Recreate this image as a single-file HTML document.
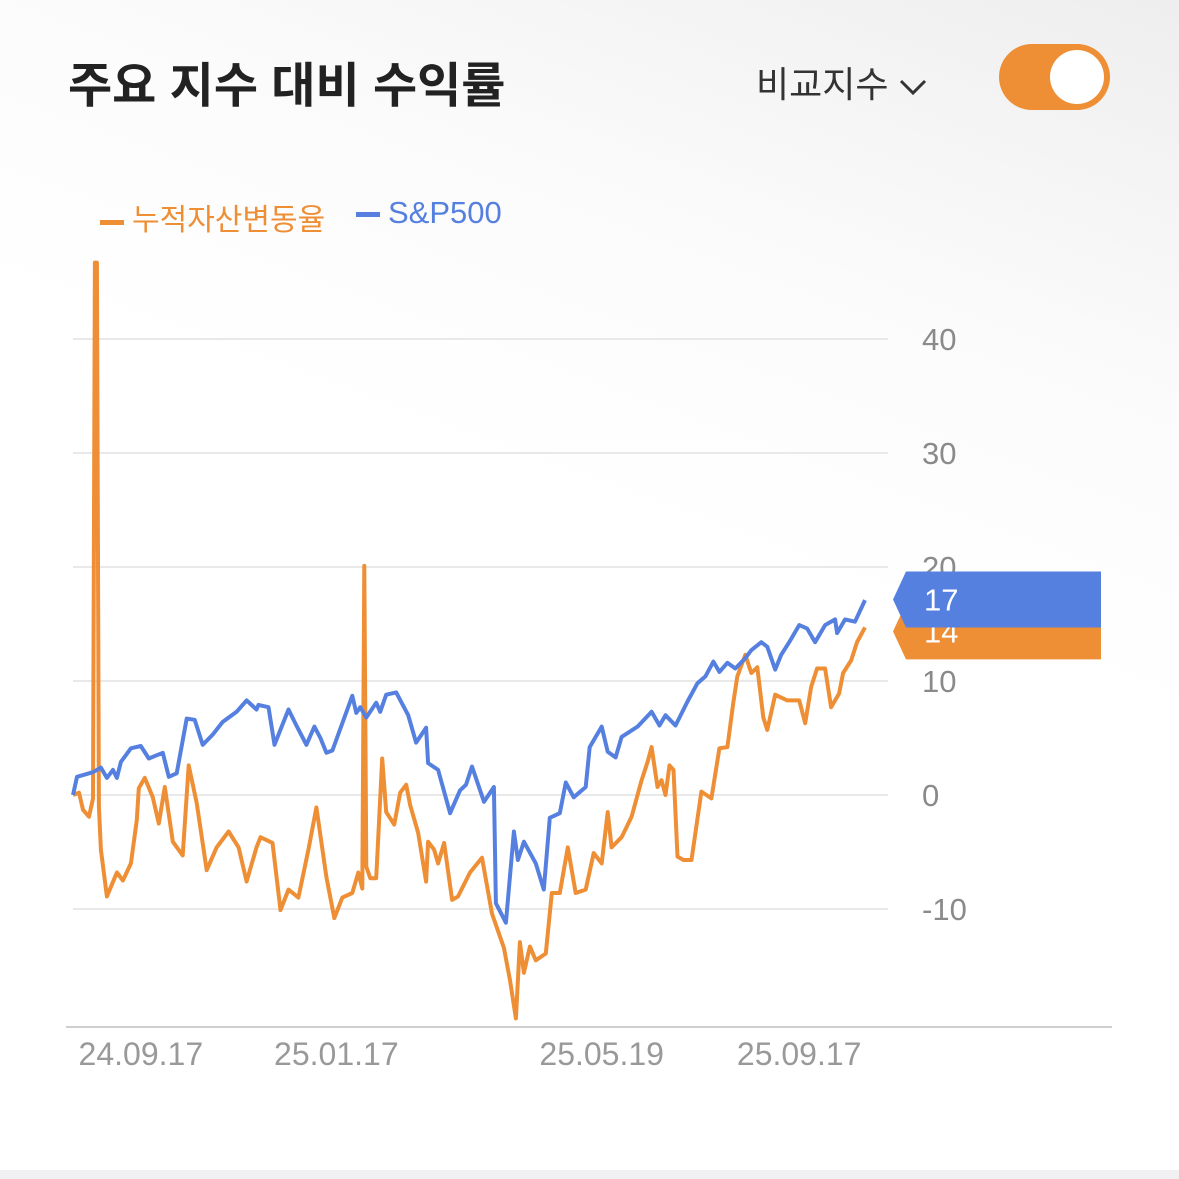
<!DOCTYPE html>
<html><head><meta charset="utf-8"><style>
html,body{margin:0;padding:0;}
body{width:1179px;height:1179px;overflow:hidden;background:linear-gradient(200deg,#eeeeee 0%,#fbfbfb 25%,#ffffff 45%);font-family:"Liberation Sans","Noto Sans CJK KR",sans-serif;position:relative;}
.t{position:absolute;white-space:nowrap;}
</style></head><body>
<div class="t" style="left:68px;top:46px;font-size:48px;font-weight:bold;color:#222;">주요 지수 대비 수익률</div>
<div class="t" style="left:756px;top:56px;font-size:36px;color:#333;">비교지수 <svg width="30" height="20" viewBox="0 0 30 20" style="vertical-align:middle"><path d="M3 4 L15 16 L27 4" fill="none" stroke="#333" stroke-width="3"/></svg></div>
<div style="position:absolute;left:999px;top:44px;width:111px;height:66px;border-radius:33px;background:#EE8E35;">
<div style="position:absolute;right:6px;top:6px;width:54px;height:54px;border-radius:50%;background:#fff;"></div></div>
<div class="t" style="left:100px;top:195px;font-size:30px;color:#EE8E35;"><span style="display:inline-block;width:24px;height:5px;background:#EE8E35;vertical-align:middle;margin-right:8px"></span>누적자산변동율</div>
<div class="t" style="left:356px;top:195px;font-size:31px;color:#5580E0;"><span style="display:inline-block;width:24px;height:5px;background:#5580E0;vertical-align:middle;margin-right:8px"></span>S&amp;P500</div>
<svg id="chart" width="1179" height="1179" style="position:absolute;left:0;top:0"></svg>
<div style="position:absolute;left:0;top:1170px;width:1179px;height:9px;background:#f1f1f3"></div>
<script>
const yTicks=[-10,0,10,20,30,40];
const xTickIdx=[34,132,265,364];
const xTickLabels=["24.09.17","25.01.17","25.05.19","25.09.17"];
const spIdx=[0,2,10,14,17,20,22,24,29,34,38,45,48,52,57,61,65,70,75,82,87,92,93,98,101,103,108,112,117,121,124,127,130,140,142,144,147,152,154,157,162,168,172,177,178,183,189,194,197,200,206,211,212,217,221,223,226,232,236,239,244,247,251,257,259,265,268,272,275,283,290,294,297,302,308,313,317,321,324,328,332,337,340,345,348,352,355,359,364,368,372,377,382,383,387,392,397];
const spVal=[0,1.6,2,2.4,1.5,2.2,1.5,2.9,4.1,4.3,3.2,3.7,1.6,1.9,6.7,6.6,4.4,5.3,6.4,7.3,8.3,7.5,7.9,7.7,4.4,5.3,7.5,6.1,4.4,6.0,5.0,3.7,3.9,8.7,7.2,7.7,6.8,8.1,7.3,8.8,9.0,7.0,4.6,5.9,2.8,2.2,-1.6,0.4,0.9,2.5,-0.6,0.7,-9.5,-11.2,-3.2,-5.7,-4.1,-6.0,-8.3,-2,-1.6,1.1,-0.2,0.7,4.2,6.0,3.8,3.3,5.1,6.0,7.3,6.1,7.0,6.1,8.2,9.8,10.4,11.7,10.8,11.6,11.1,12.0,12.7,13.4,13.0,11.0,12.3,13.4,14.9,14.6,13.4,14.9,15.4,14.2,15.4,15.2,17.1,17.5];
const pfIdx=[0,3,5,8,10,11,12,13,14,17,22,25,29,32,33,36,40,43,46,50,55,58,62,62,67,72,78,83,87,92,94,100,104,108,113,118,122,127,131,135,140,143,145,146,147,149,152,155,157,161,164,167,169,173,177,178,181,183,186,190,193,199,205,210,216,219,222,224,226,229,232,237,240,244,248,252,257,261,265,268,270,275,280,285,288,290,293,295,297,299,301,303,306,310,315,320,324,328,331,333,337,340,343,346,348,352,358,364,367,370,373,377,380,384,386,390,393,397];
const pfVal=[0,0.2,-1.3,-1.9,-0.3,46.7,46.7,-1,-4.8,-8.9,-6.8,-7.5,-6.0,-2.2,0.6,1.5,-0.2,-2.5,0.7,-4.1,-5.3,2.6,-0.7,-0.7,-6.6,-4.6,-3.2,-4.6,-7.6,-4.6,-3.7,-4.2,-10.1,-8.3,-9.0,-4.8,-1.1,-7.2,-10.8,-9.0,-8.6,-6.8,-8.2,20.1,-6.3,-7.3,-7.3,3.2,-1.5,-2.6,0.2,0.9,-0.9,-3.3,-7.6,-4.1,-4.8,-6.0,-4.2,-9.2,-8.9,-6.8,-5.5,-10.4,-13.4,-16.2,-19.6,-12.9,-15.6,-13.3,-14.5,-13.9,-8.6,-8.6,-4.6,-8.6,-8.3,-5.1,-6.0,-1.5,-4.6,-3.7,-1.9,1.3,2.9,4.2,0.7,1.3,0,2.6,2.2,-5.4,-5.7,-5.7,0.3,-0.3,4.1,4.2,8.1,10.4,12.3,10.7,11.2,6.8,5.7,8.8,8.3,8.3,6.3,9.5,11.1,11.1,7.7,8.9,10.7,11.8,13.4,14.7];
const NS='http://www.w3.org/2000/svg';
const svg=document.getElementById('chart');
const X0=73,PX=1.995;
function xs(i){return X0+i*PX;}
function ys(v){return 795-v*11.4;}
function mk(t,a){const e=document.createElementNS(NS,t);for(const k in a)e.setAttribute(k,a[k]);svg.appendChild(e);return e;}
yTicks.forEach(v=>{
 const l=mk('line',{x1:73,x2:888,y1:ys(v),y2:ys(v),stroke:'#e9e9e9','stroke-width':2});
 
 
 const t=mk('text',{x:922,y:ys(v)+11,'font-size':31,fill:'#8a8a8a','font-family':'Liberation Sans, sans-serif'});
 t.textContent=v;
 
 
});
const ax=mk('line',{x1:66,x2:1112,y1:1027,y2:1027,stroke:'#cfcfcf','stroke-width':2});


xTickIdx.forEach((i,k)=>{
 const t=mk('text',{x:xs(i),y:1065,'font-size':32,fill:'#999','text-anchor':'middle','font-family':'Liberation Sans, sans-serif'});
 t.textContent=xTickLabels[k];
 
 
});
function line(idx,val,c,name){
 const d=idx.map((i,k)=>(k?'L':'M')+xs(i).toFixed(1)+' '+ys(val[k]).toFixed(1)).join(' ');
 const p=mk('path',{d:d,fill:'none',stroke:c,'stroke-width':4,'stroke-linejoin':'round'});
 
 
}
line(pfIdx,pfVal,'#EE8E35','portfolio-line');
line(spIdx,spVal,'#5580E0','sp500-line');
function tag(v,c,name){
 const y=ys(v)+4;
 const p=mk('path',{d:`M893 ${y} L906 ${y-28} L1101 ${y-28} L1101 ${y+28} L906 ${y+28} Z`,fill:c});
 
 
 const t=mk('text',{x:924,y:y+11,'font-size':31,fill:'#fff','font-family':'Liberation Sans, sans-serif'});
 t.textContent=Math.floor(v);
 
 
}
tag(pfVal[pfVal.length-1],'#EE8E35','portfolio-last-value-tag');
tag(spVal[spVal.length-1],'#5580E0','sp500-last-value-tag');
</script>
</body></html>
